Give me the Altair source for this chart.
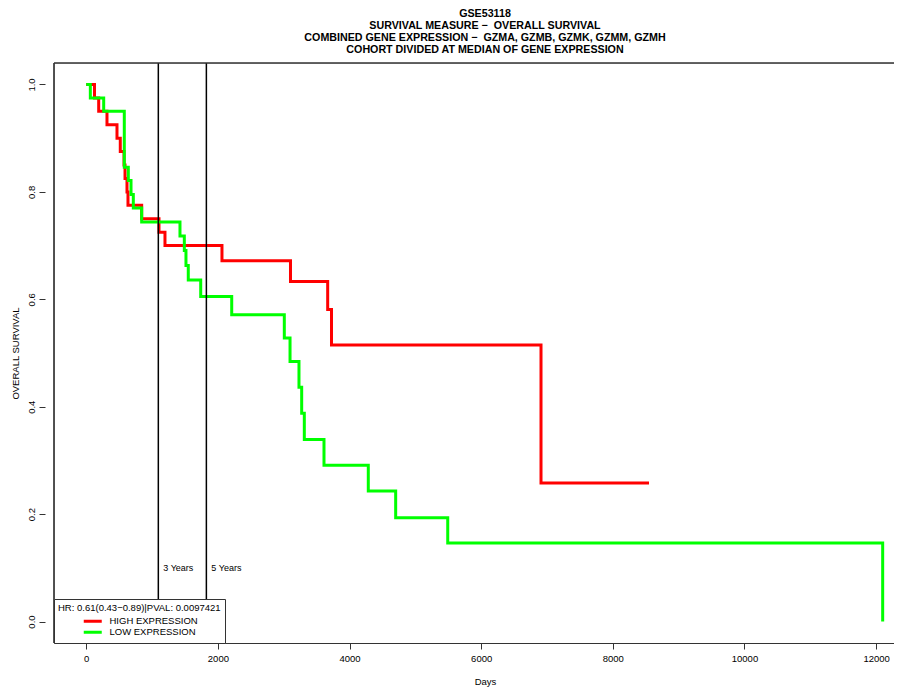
import altair as alt
import pandas as pd

# ---------------- data ----------------
high_days = [0, 125, 189, 315, 467, 517, 574, 589, 619, 634, 842, 1105, 1196,
             2062, 3103, 3668, 3726, 6909, 8550]
high_surv = [1.0, 0.975, 0.95, 0.925, 0.90, 0.875, 0.85, 0.825, 0.80, 0.775,
             0.75, 0.725, 0.70, 0.672, 0.633, 0.581, 0.515, 0.258, 0.258]

low_days = [0, 62, 265, 578, 639, 680, 715, 842, 1424, 1490, 1515, 1550, 1739,
            2210, 3009, 3096, 3232, 3273, 3313, 3612, 4285, 4701, 5492, 12100]
low_surv = [1.0, 0.975, 0.95, 0.846, 0.821, 0.795, 0.770, 0.744, 0.718, 0.691,
            0.663, 0.636, 0.605, 0.571, 0.528, 0.484, 0.436, 0.388, 0.339,
            0.291, 0.243, 0.193, 0.146, 0.0]

group_names = ["HIGH EXPRESSION", "LOW EXPRESSION"]
group_colors = ["#FF0000", "#00FF00"]

x_ticks = [0, 2000, 4000, 6000, 8000, 10000, 12000]
y_ticks = [0.0, 0.2, 0.4, 0.6, 0.8, 1.0]

marker_days = [1095, 1825]
marker_labels = ["3 Years", "5 Years"]
marker_label_y = [0.10, 0.10]

title_lines = [
    "GSE53118",
    "SURVIVAL MEASURE \u2212 \u00a0OVERALL SURVIVAL",
    "COMBINED GENE EXPRESSION \u2212 \u00a0GZMA, GZMB, GZMK, GZMM, GZMH",
    "COHORT DIVIDED AT MEDIAN OF GENE EXPRESSION",
]
legend_title = "HR: 0.61(0.43\u22120.89)|PVAL: 0.0097421"

# ---------------- tables ----------------
df = pd.concat([
    pd.DataFrame({"day": high_days, "surv": high_surv, "group": group_names[0]}),
    pd.DataFrame({"day": low_days, "surv": low_surv, "group": group_names[1]}),
], ignore_index=True)
markers = pd.DataFrame({"day": marker_days, "label": marker_labels, "y": marker_label_y})

FONT = "Liberation Sans"
W, H = 840, 580

xscale = alt.Scale(domain=[-490, 12272], nice=False, zero=False)
yscale = alt.Scale(domain=[-0.04, 1.04], nice=False, zero=False)

x_axis = alt.Axis(values=x_ticks, format="d", title="Days", grid=False,
                  domain=True, domainColor="#333", domainWidth=1.2,
                  tickSize=6, tickColor="#333", tickWidth=1,
                  labelFont=FONT, labelFontSize=9.5, labelColor="black", labelPadding=4,
                  titleFont=FONT, titleFontSize=9.5, titleFontWeight="normal",
                  titleColor="black", titleX=431, titleY=41,
                  titleAlign="center", titleBaseline="alphabetic")
y_axis = alt.Axis(values=y_ticks, format=".1f", title="OVERALL SURVIVAL", grid=False,
                  domain=False, offset=9, tickSize=6, tickColor="#333", tickWidth=1,
                  labelFont=FONT, labelFontSize=9.5, labelColor="black",
                  labelAngle=270, labelAlign="center", labelBaseline="bottom",
                  labelPadding=3, titleFont=FONT, titleFontSize=9.5,
                  titleFontWeight="normal", titleColor="black", titlePadding=6)

color = alt.Color("group:N",
                  scale=alt.Scale(domain=group_names, range=group_colors),
                  legend=alt.Legend(title=legend_title, orient="bottom-left", offset=0,
                                    fillColor="white", strokeColor="#333",
                                    padding=4, titleFont=FONT, titleFontSize=9.5,
                                    titleFontWeight="normal", titleColor="black",
                                    titlePadding=4, titleLimit=400,
                                    labelFont=FONT, labelFontSize=9.5, labelColor="black",
                                    labelLimit=400, labelOffset=12,
                                    symbolType="M-3,0H3", symbolStrokeWidth=3,
                                    symbolSize=36, symbolOffset=30, rowPadding=-2,
                                    cornerRadius=0))

base = alt.Chart(df)

high = base.transform_filter(alt.datum.group == group_names[0]).mark_line(
    interpolate="step-after", strokeWidth=3).encode(
    x=alt.X("day:Q", scale=xscale, axis=x_axis),
    y=alt.Y("surv:Q", scale=yscale, axis=y_axis),
    color=color)

low = base.transform_filter(alt.datum.group == group_names[1]).mark_line(
    interpolate="step-after", strokeWidth=3).encode(
    x=alt.X("day:Q", scale=xscale),
    y=alt.Y("surv:Q", scale=yscale),
    color=color)

rules = alt.Chart(markers).mark_rule(color="black", strokeWidth=1.5).encode(
    x=alt.X("day:Q", scale=xscale))

labels = alt.Chart(markers).mark_text(align="left", baseline="middle", dx=5,
                                      font=FONT, fontSize=9, color="black").encode(
    x=alt.X("day:Q", scale=xscale),
    y=alt.Y("y:Q", scale=yscale),
    text="label:N")

frame_top = alt.Chart(markers).mark_rule(color="#333", strokeWidth=1.2).encode(
    x=alt.value(0), x2=alt.value(W), y=alt.value(0))
frame_left = alt.Chart(markers).mark_rule(color="#333", strokeWidth=1.2).encode(
    x=alt.value(0), y=alt.value(0), y2=alt.value(H))

chart = alt.layer(high, low, rules, labels, frame_top, frame_left).properties(
    width=W, height=H,
    title=alt.TitleParams(text=title_lines, anchor="middle", dx=11, offset=7,
                          font=FONT, fontSize=10.7, fontWeight="bold",
                          color="black", lineHeight=12),
    autosize=alt.AutoSizeParams(type="none"),
    padding={"left": 46, "top": 55, "right": 0, "bottom": 50},
).configure_view(stroke=None).configure(background="white")

chart.save("out.html", embed_options={"renderer": "svg", "actions": False})
